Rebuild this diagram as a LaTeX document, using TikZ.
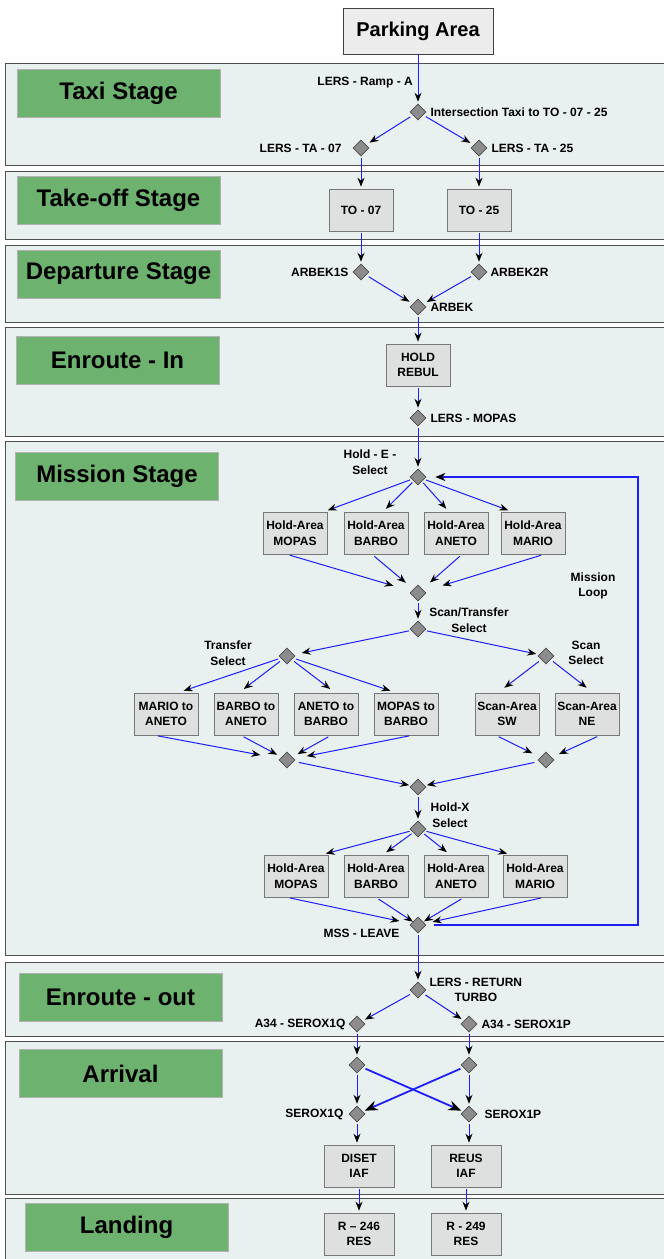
\documentclass[tikz,border=0pt]{standalone}
\usepackage{fontspec}
\setmainfont{Liberation Sans}
\usetikzlibrary{positioning}
\usetikzlibrary{arrows.meta}
\usetikzlibrary{shapes.geometric}

\definecolor{bandfill}{RGB}{233,240,240}
\definecolor{bandline}{RGB}{80,80,80}
\definecolor{stagegreen}{RGB}{110,178,112}
\definecolor{boxfill}{RGB}{222,224,224}
\definecolor{boxline}{RGB}{120,120,120}
\definecolor{wpfill}{RGB}{140,140,140}
\definecolor{flowblue}{RGB}{30,30,250}

\tikzset{
  band/.style={draw=bandline, fill=bandfill, line width=0.9pt},
  stage/.style={draw=gray!60, fill=stagegreen, minimum width=203pt, minimum height=48pt,
    inner sep=0pt, font=\fontsize{24}{28}\selectfont\bfseries},
  park/.style={draw=black!75, fill=gray!15, minimum width=150pt, minimum height=46pt,
    line width=0.8pt, font=\fontsize{20}{24}\selectfont\bfseries},
  wp/.style={diamond, draw=black!70, fill=wpfill, minimum width=16pt, minimum height=16pt,
    inner sep=0pt, line width=0.6pt},
  area/.style={draw=boxline, fill=boxfill, minimum width=64pt, minimum height=42pt,
    inner sep=0pt, align=center, line width=0.7pt, font=\fontsize{12}{15.5}\selectfont\bfseries},
  lbl/.style={inner sep=0pt, align=center, font=\fontsize{12}{15.5}\selectfont\bfseries},
  flow/.style={draw=flowblue, line width=1pt, -{Stealth[length=9pt,width=7pt,inset=3pt,black]},
    shorten >=2pt, shorten <=2pt},
  bigflow/.style={flow, line width=1.8pt, -{Stealth[length=13pt,width=10pt,inset=4pt,black]}}
}

\begin{document}
\begin{tikzpicture}[x=1pt,y=-1pt]
  \useasboundingbox (0,0) rectangle (664,1259);
  \clip (0,0) rectangle (664,1259);

  % stage bands with their green titles
  \foreach \sid/\ya/\yb/\gx/\gy/\title in {
      taxi/63/165/118.5/93/Taxi Stage,
      takeoff/171/239/118.5/200.5/Take-off Stage,
      dep/245/322/118.5/274/Departure Stage,
      enin/327/436/117.5/360/Enroute - In,
      mission/441/955/117/476.5/Mission Stage,
      enout/962/1036/120.5/997.5/Enroute - out,
      arrival/1041/1194/120.5/1073.5/Arrival,
      landing/1198/1280/126.5/1227/Landing}
    {\draw[band] (5,\ya) rectangle (690,\yb);
     \node[stage] (\sid) at (\gx,\gy) {\title};}

  % taxi
  \node[park] (park) at (418,31) {Parking Area};
  \node[lbl, anchor=east] (rampt) at (413,83) {LERS - Ramp - A};
  \node[wp] (inter) at (418,112) {};
  \node[lbl, right=4pt of inter] (intert) {Intersection Taxi to TO - 07 - 25};
  \node[wp] (ta07) at (361,148) {};
  \node[lbl, left=11pt of ta07] (ta07t) {LERS - TA - 07};
  \node[wp] (ta25) at (479,148) {};
  \node[lbl, right=4pt of ta25] (ta25t) {LERS - TA - 25};

  % take-off
  \node[area] (to07) at (361,210) {TO - 07};
  \node[area] (to25) at (479,210) {TO - 25};

  % departure
  \node[wp] (a1s) at (361,272) {};
  \node[lbl, left=4pt of a1s] (a1st) {ARBEK1S};
  \node[wp] (a2r) at (479,272) {};
  \node[lbl, right=3pt of a2r] (a2rt) {ARBEK2R};
  \node[wp] (arbek) at (418,307) {};
  \node[lbl, right=4pt of arbek] (arbekt) {ARBEK};

  % enroute in
  \node[area] (rebul) at (418,365) {HOLD\\REBUL};
  \node[wp] (mopas) at (418,418) {};
  \node[lbl, right=4pt of mopas] (mopast) {LERS - MOPAS};

  % mission
  \node[wp] (holde) at (418,477) {};
  \node[lbl] (holdet) at (370,462) {Hold - E -\\Select};
  \foreach \n/\x/\nm in {1/295/MOPAS,2/376/BARBO,3/456/ANETO,4/533/MARIO}
    \node[area] (he\n) at (\x,533) {Hold-Area\\\nm};
  \node[wp] (mergeE) at (418,593) {};
  \node[wp] (stsel) at (418,629) {};
  \node[lbl] (stselt) at (469,620) {Scan/Transfer\\Select};
  \node[lbl] (loopt) at (593,586) {Mission\\Loop};

  \node[wp] (trsel) at (287,656) {};
  \node[lbl] (trselt) at (228,653) {Transfer\\Select};
  \node[wp] (scsel) at (546,656) {};
  \node[lbl] (scselt) at (586,653) {Scan\\Select};
  \foreach \n/\x/\txt in {1/166/MARIO to\\ANETO,2/246/BARBO to\\ANETO,
                          3/326/ANETO to\\BARBO,4/406/MOPAS to\\BARBO}
    \node[area] (tr\n) at (\x,714) {\txt};
  \node[area] (sc1) at (507,714) {Scan-Area\\SW};
  \node[area] (sc2) at (587,714) {Scan-Area\\NE};
  \node[wp] (trmerge) at (287,760) {};
  \node[wp] (scmerge) at (546,760) {};
  \node[wp] (mergeM) at (418,787) {};

  \node[wp] (holdx) at (418,829) {};
  \node[lbl] (holdxt) at (450,815) {Hold-X\\Select};
  \foreach \n/\x/\nm in {1/296/MOPAS,2/376/BARBO,3/456/ANETO,4/535/MARIO}
    \node[area] (hx\n) at (\x,876) {Hold-Area\\\nm};
  \node[wp] (leave) at (418,925) {};
  \node[lbl] (leavet) at (361.5,933) {MSS - LEAVE};

  % enroute out
  \node[wp] (ret) at (418,990) {};
  \node[lbl, right=3pt of ret] (rett) {LERS - RETURN\\TURBO};
  \node[wp] (a34q) at (357,1024) {};
  \node[lbl, left=3pt of a34q] (a34qt) {A34 - SEROX1Q};
  \node[wp] (a34p) at (469,1024) {};
  \node[lbl, right=4pt of a34p] (a34pt) {A34 - SEROX1P};

  % arrival
  \node[wp] (arq) at (357,1065) {};
  \node[wp] (arp) at (469,1065) {};
  \node[wp] (srq) at (357,1114) {};
  \node[lbl, left=5pt of srq] (srqt) {SEROX1Q};
  \node[wp] (srp) at (469,1114) {};
  \node[lbl, right=7pt of srp] (srpt) {SEROX1P};
  \node[area, minimum width=70pt] (diset) at (359,1166) {DISET\\IAF};
  \node[area, minimum width=70pt] (reus) at (466,1166) {REUS\\IAF};

  % landing
  \node[area, minimum width=70pt] (r246) at (359,1234) {R – 246\\RES};
  \node[area, minimum width=70pt] (r249) at (466,1234) {R - 249\\RES};

  % connectors
  \draw[flow, shorten <=0pt] (park) -- (inter);
  \draw[flow, shorten >=4pt, shorten <=3pt] (inter) -- (ta07);
  \draw[flow, shorten >=4pt, shorten <=3pt] (inter) -- (ta25);
  \draw[flow] (ta07) -- (to07);
  \draw[flow] (ta25) -- (to25);
  \draw[flow] (to07) -- (a1s);
  \draw[flow] (to25) -- (a2r);
  \draw[flow, shorten >=4pt, shorten <=3pt] (a1s) -- (arbek);
  \draw[flow, shorten >=4pt, shorten <=3pt] (a2r) -- (arbek);
  \draw[flow] (arbek) -- (rebul);
  \draw[flow] (rebul) -- (mopas);
  \draw[flow] (mopas) -- (holde);

  \foreach \n/\a/\b/\s in {1/29/-8/19,2/7/-4/10,3/-7/6/10,4/-21/11/19}
    {\draw[flow, shorten >=4pt] (holde) -- ([xshift=\a pt]he\n.north);
     \draw[flow, shorten >=\s pt, shorten <=3pt] ([xshift=\b pt]he\n.south) -- (mergeE);}
  \draw[flow] (mergeE) -- (stsel);
  \draw[flow, shorten >=8pt] (stsel) -- (trsel);
  \draw[flow, shorten >=3pt] (stsel) -- (scsel);

  \foreach \n/\a/\b/\s in {1/12/-11/20,2/-7/-5/5,3/9/5/6,4/-10/6/13}
    {\draw[flow, shorten >=6pt, shorten <=3pt] (trsel) -- ([xshift=\a pt]tr\n.north);
     \draw[flow, shorten >=\s pt, shorten <=3pt] ([xshift=\b pt]tr\n.south) -- (trmerge);}
  \foreach \n/\a/\b/\s in {1/-9/-11/9,2/6/13/8}
    {\draw[flow, shorten >=8pt, shorten <=3pt] (scsel) -- ([xshift=\a pt]sc\n.north);
     \draw[flow, shorten >=\s pt, shorten <=3pt] ([xshift=\b pt]sc\n.south) -- (scmerge);}
  \draw[flow, shorten <=5pt] (trmerge) -- (mergeM);
  \draw[flow, shorten <=5pt] (scmerge) -- (mergeM);
  \draw[flow] (mergeM) -- (holdx);

  \foreach \n/\a/\b/\s in {1/26/-9/19,2/7/0/6,3/-6/8/7,4/-24/9/15}
    {\draw[flow, shorten >=4pt] (holdx) -- ([xshift=\a pt]hx\n.north);
     \draw[flow, shorten >=\s pt, shorten <=3pt] ([xshift=\b pt]hx\n.south) -- (mergeE |- leave);}

  % mission loop back to hold-E select
  \coordinate (loopR) at (638,700);
  \draw[bigflow, -{Stealth[length=10pt,width=8pt,inset=3pt,black]}, shorten >=9pt, shorten <=0pt]
    ([xshift=8pt]leave.east) -- (leave -| loopR) -- (holde -| loopR) -- (holde);

  \draw[flow] (leave) -- (ret);
  \draw[flow, shorten >=3pt, shorten <=3pt] (ret) -- (a34q);
  \draw[flow, shorten >=3pt, shorten <=3pt] (ret) -- (a34p);
  \draw[flow] (a34q) -- (arq);
  \draw[flow] (a34p) -- (arp);
  \draw[flow] (arq) -- (srq);
  \draw[flow] (arp) -- (srp);
  \draw[bigflow, shorten <=3pt] (arq) -- (srp);
  \draw[bigflow, shorten <=3pt] (arp) -- (srq);
  \draw[flow] (srq) -- (srq |- diset.north);
  \draw[flow] (srp) -- (srp |- reus.north);
  \draw[flow] (diset) -- (r246);
  \draw[flow] (reus) -- (r249);
\end{tikzpicture}
\end{document}
